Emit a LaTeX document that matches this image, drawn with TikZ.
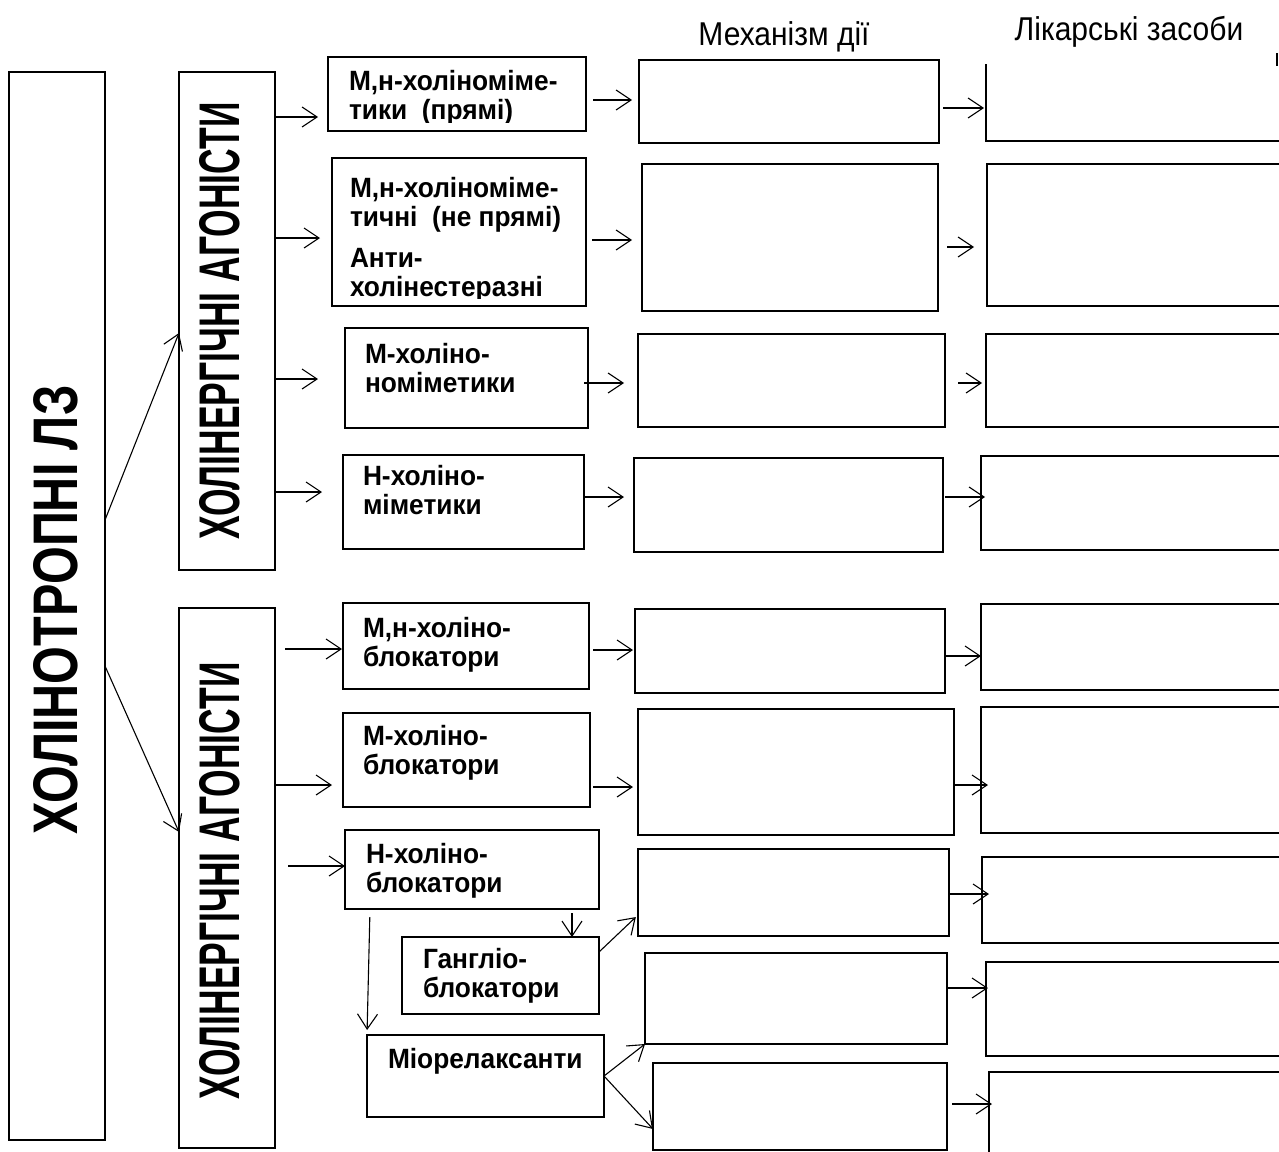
\documentclass[tikz,border=0pt]{standalone}
\usepackage{fontspec}
\usepackage{graphicx}
\setmainfont{Liberation Sans}
\usetikzlibrary{arrows.meta}
\newcommand\twoline[2]{\scalebox{1}[1.06]{\vtop{\hbox{#1}\hbox{#2}}}}
\newcommand\oneline[1]{\scalebox{1}[1.06]{#1}}
\begin{document}
\begin{tikzpicture}[x=1pt,y=-1pt,
  box/.style={draw=black, line width=1.5pt, inner sep=0pt, outer sep=0pt, anchor=north west},
  arr/.style={-{Straight Barb[length=15pt,width=20pt,line width=1.1pt]}, line width=1.1pt},
  lbl/.style={anchor=base west, inner sep=0pt, outer sep=0pt, font=\fontsize{26.3}{27.4}\selectfont\bfseries},
  hdr/.style={anchor=base, inner sep=0pt, font=\fontsize{30}{34}\selectfont},
  vtxt/.style={rotate=90, anchor=base, inner sep=0pt}
]
\useasboundingbox[fill=white] (0,0) rectangle (1279,1151);

% helper: box by corners
\def\bx#1#2#3#4#5{\node[box, minimum width=#4pt-#2pt, minimum height=#5pt-#3pt] (#1) at (#2,#3) {};}

% main boxes
\bx{big}{9}{72}{105}{1140}
\bx{agA}{179}{72}{275}{570}
\bx{agB}{179}{608}{275}{1148}

% class boxes
\bx{sub1}{328}{57}{586}{131}
\bx{sub2}{332}{158}{586}{306}
\bx{sub3}{345}{328}{588}{428}
\bx{sub4}{343}{455}{584}{549}
\bx{sub5}{343}{603}{589}{689}
\bx{sub6}{343}{713}{590}{807}
\bx{sub7}{345}{830}{599}{909}
\bx{gang}{402}{937}{599}{1014}
\bx{mio}{367}{1035}{604}{1117}

% mechanism boxes
\bx{mech1}{639}{60}{939}{143}
\bx{mech2}{642}{164}{938}{311}
\bx{mech3}{638}{334}{945}{427}
\bx{mech4}{634}{458}{943}{552}
\bx{mech5}{635}{609}{945}{693}
\bx{mech6}{638}{709}{954}{835}
\bx{mech7}{638}{849}{949}{936}
\bx{mech8}{645}{953}{947}{1044}
\bx{mech9}{653}{1063}{947}{1150}

% drug boxes (cut by the right border)
\node[box, draw=none, minimum width=330pt, minimum height=77pt] (d1) at (986,64) {};
\draw[line width=1.5pt] (d1.north west) -- (d1.south west) -- (d1.south east);
\draw[line width=1.2pt] (1277,53) -- (1277,66);
\bx{d2}{987}{164}{1300}{306}
\bx{d3}{986}{334}{1300}{427}
\bx{d4}{981}{456}{1300}{550}
\bx{d5}{981}{604}{1300}{690}
\bx{d6}{981}{707}{1300}{833}
\bx{d7}{982}{857}{1300}{943}
\bx{d8}{986}{962}{1300}{1056}
\bx{d9}{989}{1072}{1300}{1170}

% headers
\node[hdr] (h1) at (784,45) {\scalebox{1}[1.1]{Механізм дії}};
\node[hdr] (h2) at (1129,40) {\scalebox{1}[1.1]{Лікарські засоби}};

% vertical texts
\node[vtxt] (tbig) at (77,610) {\resizebox{449pt}{44pt}{\bfseries ХОЛІНОТРОПНІ ЛЗ}};
\node[vtxt] (tagA) at (239,321) {\resizebox{437pt}{40pt}{\bfseries ХОЛІНЕРГІЧНІ АГОНІСТИ}};
\node[vtxt] (tagB) at (239,881) {\resizebox{437pt}{40pt}{\bfseries ХОЛІНЕРГІЧНІ АГОНІСТИ}};

% class labels
\begin{scope}
\clip (328,57) rectangle (586,122);
\node[lbl] (l1) at (349,90) {\twoline{М,н-холіноміме-}{тики\ \ (прямі)}};
\end{scope}
\node[lbl] (l2a) at (350,197) {\twoline{М,н-холіноміме-}{тичні\ \ (не прямі)}};
\begin{scope}
\clip (332,240) rectangle (586,298);
\node[lbl] (l2b) at (350,267) {\twoline{Анти-}{холінестеразні}};
\end{scope}
\node[lbl] (l3) at (365,363) {\twoline{М-холіно-}{номіметики}};
\node[lbl] (l4) at (363,485) {\twoline{Н-холіно-}{міметики}};
\node[lbl] (l5) at (363,637) {\twoline{М,н-холіно-}{блокатори}};
\node[lbl] (l6) at (363,745) {\twoline{М-холіно-}{блокатори}};
\node[lbl] (l7) at (366,863) {\twoline{Н-холіно-}{блокатори}};
\begin{scope}
\clip (402,937) rectangle (599,1002);
\node[lbl] (l8) at (423,968) {\twoline{Гангліо-}{блокатори}};
\end{scope}
\node[lbl] (l9) at (388,1068) {\oneline{Міорелаксанти}};

% arrows: big -> agonists
\draw[arr] (big.east |- 0,520) -- (agA.west |- 0,333);
\draw[arr] (big.east |- 0,666) -- (agB.west |- 0,832);

% agonists -> classes
\draw[arr, shorten >=10pt] (agA.east |- 0,117) -- (sub1.west |- 0,117);
\draw[arr, shorten >=12pt] (agA.east |- 0,238) -- (sub2.west |- 0,238);
\draw[arr, shorten >=27pt] (agA.east |- 0,379) -- (sub3.west |- 0,379);
\draw[arr, shorten >=21pt] (agA.east |- 0,492) -- (sub4.west |- 0,492);
\draw[arr, shorten <=10pt, shorten >=1pt] (agB.east |- 0,649) -- (sub5.west |- 0,649);
\draw[arr, shorten >=11pt] (agB.east |- 0,785) -- (sub6.west |- 0,785);
\draw[arr, shorten <=13pt] (agB.east |- 0,866) -- (sub7.west |- 0,866);

% classes -> mechanism
\draw[arr, shorten <=7pt, shorten >=7pt] (sub1.east |- 0,100) -- (mech1.west |- 0,100);
\draw[arr, shorten <=6pt, shorten >=10pt] (sub2.east |- 0,240) -- (mech2.west |- 0,240);
\draw[arr, shorten <=-4pt, shorten >=14pt] (sub3.east |- 0,383) -- (mech3.west |- 0,383);
\draw[arr, shorten >=10pt] (sub4.east |- 0,497) -- (mech4.west |- 0,497);
\draw[arr, shorten <=4pt, shorten >=2pt] (sub5.east |- 0,650) -- (mech5.west |- 0,650);
\draw[arr, shorten <=3pt, shorten >=5pt] (sub6.east |- 0,787) -- (mech6.west |- 0,787);
\draw[arr, shorten <=4pt] (572,0 |- sub7.south) -- (572,0 |- gang.north);
\draw[arr, shorten <=8pt, shorten >=5pt] (sub7.south -| 370,0) -- (mio.north -| 367,0);
\draw[arr, shorten >=3pt] (gang.east |- 0,952) -- (mech7.west |- 0,915);
\draw[arr] (mio.east |- 0,1076) -- (mech8.south west);
\draw[arr] (mio.east |- 0,1076) -- (mech9.west |- 0,1129);

% mechanism -> drugs
\draw[arr, shorten <=4pt, shorten >=2pt] (mech1.east |- 0,108) -- (d1.west |- 0,108);
\draw[arr, shorten <=9pt, shorten >=13pt] (mech2.east |- 0,247) -- (d2.west |- 0,247);
\draw[arr, shorten <=13pt, shorten >=4pt] (mech3.east |- 0,383) -- (d3.west |- 0,383);
\draw[arr, shorten <=2pt, shorten >=-4pt] (mech4.east |- 0,497) -- (d4.west |- 0,497);
\draw[arr, shorten <=1pt] (mech5.east |- 0,656) -- (d5.west |- 0,656);
\draw[arr, shorten >=-7pt] (mech6.east |- 0,785) -- (d6.west |- 0,785);
\draw[arr, shorten >=-7pt] (mech7.east |- 0,894) -- (d7.west |- 0,894);
\draw[arr, shorten <=1pt, shorten >=-2pt] (mech8.east |- 0,988) -- (d8.west |- 0,988);
\draw[arr, shorten <=5pt, shorten >=-3pt] (mech9.east |- 0,1104) -- (d9.west |- 0,1104);
\end{tikzpicture}
\end{document}
